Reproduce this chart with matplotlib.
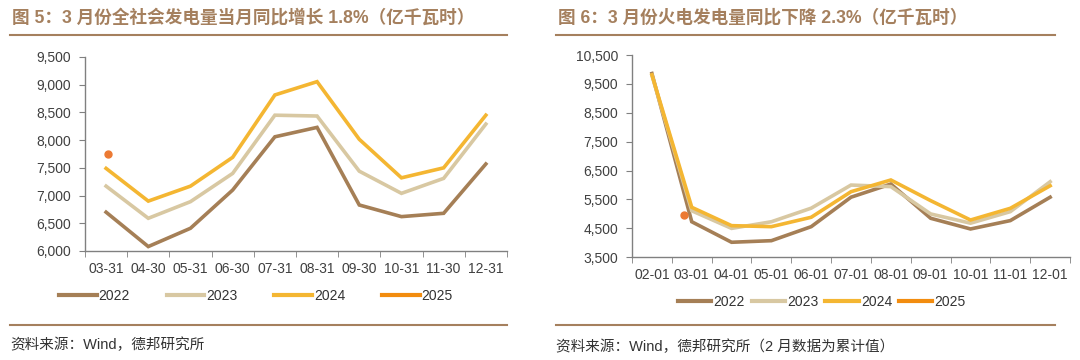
import numpy as np
import matplotlib.pyplot as plt
from matplotlib.lines import Line2D

plt.rcParams['font.family'] = ['Liberation Sans', 'Noto Sans CJK SC']

# 数据：图5 全社会发电量（亿千瓦时）
months_l = ['03-31', '04-30', '05-31', '06-30', '07-31', '08-31', '09-30', '10-31', '11-30', '12-31']
l2022 = [6700, 6080, 6410, 7100, 8060, 8230, 6830, 6620, 6680, 7570]
l2023 = [7170, 6590, 6890, 7400, 8450, 8435, 7440, 7040, 7310, 8290]
l2024 = [7490, 6900, 7170, 7690, 8815, 9055, 8015, 7320, 7500, 8450]
l2025 = [7755]

# 数据：图6 火电发电量（亿千瓦时），2月为累计值
months_r = ['02-01', '03-01', '04-01', '05-01', '06-01', '07-01', '08-01', '09-01', '10-01', '11-01', '12-01']
r2022 = [9860, 4730, 4020, 4075, 4560, 5580, 6035, 4850, 4480, 4770, 5580]
r2023 = [9800, 5110, 4500, 4730, 5200, 6000, 5945, 5000, 4680, 5080, 6115]
r2024 = [9810, 5230, 4595, 4560, 4885, 5770, 6175, 5460, 4790, 5195, 5975]
r2025 = [4950]

years = ['2022', '2023', '2024', '2025']
colors = ['#A57F56', '#D8C8A2', '#F4B632', '#F28C0F']
dot_color = '#EC7A33'
brown = '#A5805E'
tick_color = '#404040'

fig = plt.figure(figsize=(10.8, 3.6), dpi=100)


def style_axes(ax, labels, ylim, yticks):
    n = len(labels)
    ax.set_xlim(-0.5, n - 0.5)
    ax.set_ylim(*ylim)
    ax.set_yticks(yticks)
    ax.set_yticklabels([f'{v:,}' for v in yticks])
    ax.set_xticks(range(n))
    ax.set_xticklabels(labels)
    ax.set_xticks(np.arange(-0.5, n), minor=True)
    ax.tick_params(axis='x', which='major', length=0, pad=8)
    ax.tick_params(axis='x', which='minor', length=4, color='#808080', direction='out')
    ax.tick_params(axis='y', length=4, color='#808080', pad=6)
    ax.tick_params(labelsize=10, labelcolor=tick_color)
    for s in ['top', 'right']:
        ax.spines[s].set_visible(False)
    for s in ['left', 'bottom']:
        ax.spines[s].set_color('#808080')
        ax.spines[s].set_linewidth(1)


# 左图
ax1 = fig.add_axes([0.0787, 0.3028, 0.3907, 0.5389])
x = np.arange(len(months_l))
for data, c in zip([l2022, l2023, l2024], colors):
    ax1.plot(x, data, color=c, lw=2.6, solid_joinstyle='miter')
ax1.plot([0.05], l2025, 'o', color=dot_color, ms=5)
style_axes(ax1, months_l, (6000, 9500), list(range(6000, 9501, 500)))

handles = [Line2D([], [], color=c, lw=3) for c in colors]
fig.legend(handles, years, loc='center', bbox_to_anchor=(0.237, 1 - 296 / 360), ncol=4,
           frameon=False, fontsize=10, handlelength=2.7, handletextpad=0.15,
           columnspacing=2.65, labelcolor='#333333')

# 右图
ax2 = fig.add_axes([0.5852, 0.2853, 0.4056, 0.5619])
x = np.arange(len(months_r))
for data, c in zip([r2022, r2023, r2024], colors):
    ax2.plot(x, data, color=c, lw=2.6, solid_joinstyle='miter')
ax2.plot([0.8], r2025, 'o', color=dot_color, ms=5)
style_axes(ax2, months_r, (3500, 10500), list(range(3500, 10501, 1000)))

fig.legend(handles, years, loc='center', bbox_to_anchor=(0.761, 1 - 302 / 360), ncol=4,
           frameon=False, fontsize=10, handlelength=2.4, handletextpad=0.15,
           columnspacing=0.5, labelcolor='#333333')

# 标题、分隔线、来源
fig.text(12 / 1080, 1 - 18 / 360, '图 5：3 月份全社会发电量当月同比增长 1.8%（亿千瓦时）',
         fontsize=12.7, fontweight='bold', color=brown, va='center')
fig.text(558 / 1080, 1 - 18 / 360, '图 6：3 月份火电发电量同比下降 2.3%（亿千瓦时）',
         fontsize=12.7, fontweight='bold', color=brown, va='center')

for x0, x1 in [(10, 507), (556, 1055)]:
    for yy in [35, 325]:
        fig.add_artist(Line2D([x0 / 1080, x1 / 1080], [1 - yy / 360, 1 - yy / 360],
                              color=brown, lw=1.5))

fig.text(10 / 1080, 1 - 345 / 360, '资料来源：Wind，德邦研究所', fontsize=10.5,
         color='#333333', va='center')
fig.text(556 / 1080, 1 - 347 / 360, '资料来源：Wind，德邦研究所（2 月数据为累计值）', fontsize=10.5,
         color='#333333', va='center')

fig.savefig('out.png', dpi=100)
